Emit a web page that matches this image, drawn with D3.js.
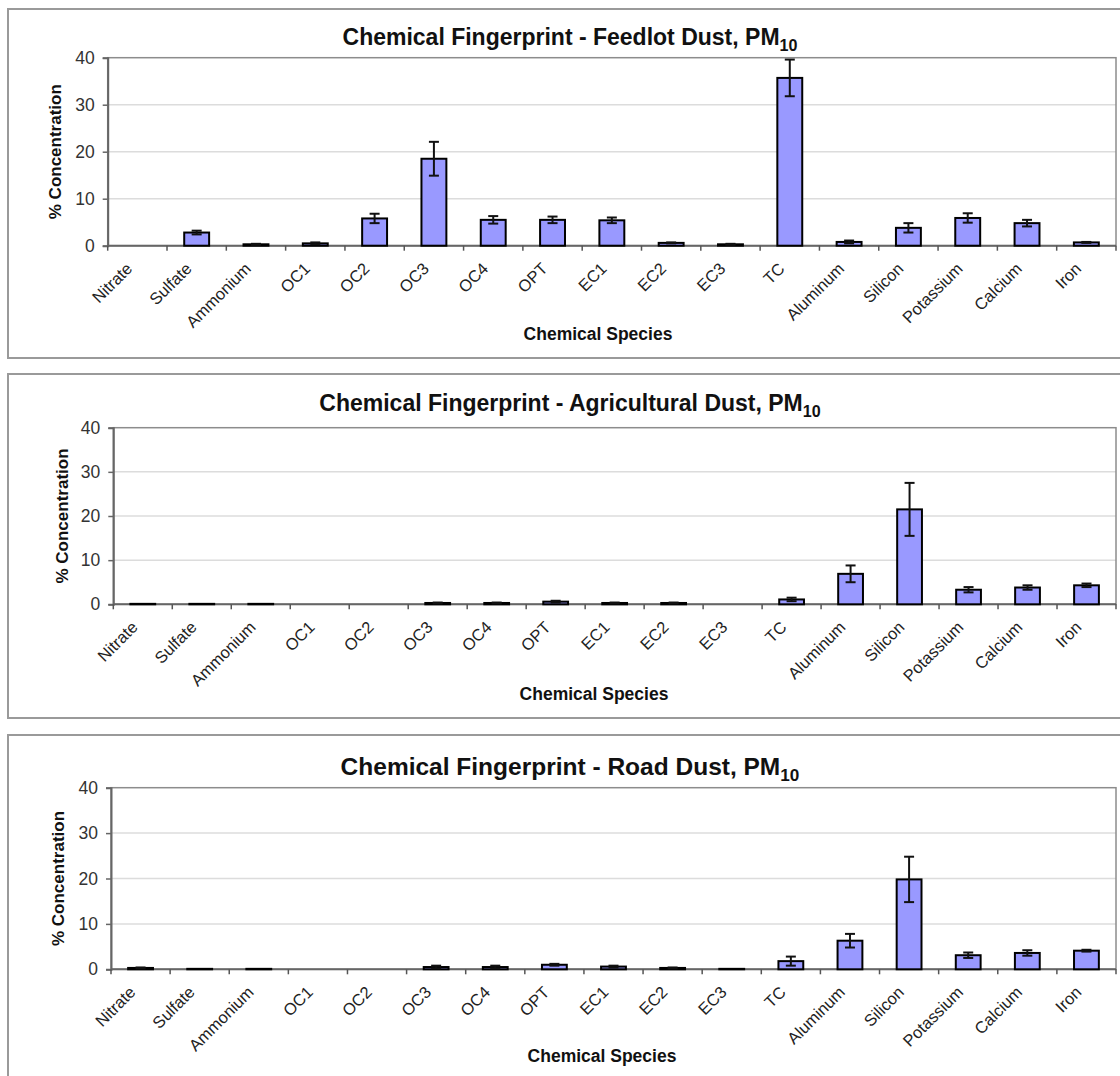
<!DOCTYPE html>
<html>
<head>
<meta charset="utf-8">
<script src="https://cdn.jsdelivr.net/npm/d3@7"></script>
<style>
  body { margin: 0; background: #fff; }
  text { font-family: "Liberation Sans", Arial, sans-serif; }
</style>
</head>
<body>
<div id="chart"></div>
<script>
const species = ["Nitrate", "Sulfate", "Ammonium", "OC1", "OC2", "OC3", "OC4", "OPT", "EC1", "EC2", "EC3", "TC", "Aluminum", "Silicon", "Potassium", "Calcium", "Iron"];
const yTicks = [0, 10, 20, 30, 40];

const feedlotMean = [0, 2.8, 0.3, 0.5, 5.8, 18.5, 5.5, 5.5, 5.4, 0.6, 0.3, 35.7, 0.8, 3.8, 5.9, 4.8, 0.7];
const feedlotErr  = [0, 0.4, 0.1, 0.2, 1.0, 3.6, 0.8, 0.7, 0.6, 0.1, 0.1, 3.9, 0.3, 1.0, 1.0, 0.7, 0.1];

const agMean = [0.1, 0.1, 0.1, 0, 0, 0.3, 0.3, 0.6, 0.3, 0.3, 0, 1.1, 6.9, 21.5, 3.3, 3.8, 4.3];
const agErr  = [0, 0, 0, 0, 0, 0.1, 0.1, 0.2, 0.1, 0.1, 0, 0.4, 1.9, 6.0, 0.6, 0.5, 0.4];

const roadMean = [0.3, 0.1, 0.1, 0, 0, 0.5, 0.5, 1.0, 0.6, 0.3, 0.1, 1.8, 6.3, 19.8, 3.1, 3.6, 4.1];
const roadErr  = [0.1, 0, 0, 0, 0, 0.3, 0.3, 0.2, 0.2, 0.1, 0, 1.0, 1.5, 5.0, 0.6, 0.6, 0.2];

const panels = [
  { name: "Feedlot Dust", mean: feedlotMean, err: feedlotErr,
    box: [8, 9, 1130, 349], plot: { l: 107.7, r: 1116, t: 57.7, b: 245.7 },
    titleY: 45, titleSize: 23, yTitleX: 55, xTitleX: 598, xTitleY: 340 },
  { name: "Agricultural Dust", mean: agMean, err: agErr,
    box: [8, 374, 1130, 344], plot: { l: 113.3, r: 1116, t: 427.7, b: 604.3 },
    titleY: 411, titleSize: 23, yTitleX: 62, xTitleX: 594, xTitleY: 700 },
  { name: "Road Dust", mean: roadMean, err: roadErr,
    box: [8, 735, 1130, 345], plot: { l: 111, r: 1116, t: 787.7, b: 969.3 },
    titleY: 775, titleSize: 24.5, yTitleX: 58, xTitleX: 602, xTitleY: 1062 }
];

const svg = d3.select("#chart").append("svg")
  .attr("width", 1120)
  .attr("height", 1076);

panels.forEach(p => {
  const g = svg.append("g");
  const { l, r, t, b } = p.plot;

  // outer frame
  g.append("rect")
    .attr("x", p.box[0]).attr("y", p.box[1])
    .attr("width", p.box[2]).attr("height", p.box[3])
    .attr("fill", "#fff").attr("stroke", "#9a9a9a").attr("stroke-width", 2);

  const x = d3.scaleBand().domain(species).range([l, r]).padding(0);
  const y = d3.scaleLinear().domain([0, 40]).range([b, t]);

  // gridlines
  g.append("g").selectAll("line")
    .data(yTicks.filter(v => v > 0 && v < 40))
    .join("line")
      .attr("x1", l).attr("x2", r)
      .attr("y1", d => y(d)).attr("y2", d => y(d))
      .attr("stroke", "#dcdcdc").attr("stroke-width", 1.5);

  // plot area border
  g.append("rect")
    .attr("x", l).attr("y", t).attr("width", r - l).attr("height", b - t)
    .attr("fill", "none").attr("stroke", "#8c8c8c").attr("stroke-width", 1.5);

  // y axis
  const yAxis = g.append("g")
    .attr("transform", `translate(${l},0)`)
    .call(d3.axisLeft(y).tickValues(yTicks).tickSize(5).tickPadding(8));
  yAxis.select(".domain").attr("stroke", "#666").attr("stroke-width", 2);
  yAxis.selectAll(".tick line").attr("stroke", "#666").attr("stroke-width", 1.5);
  yAxis.selectAll(".tick text")
    .attr("font-size", 17.5).attr("fill", "#333")
    .attr("font-family", "'Liberation Sans', Arial, sans-serif");

  // x axis line with ticks at category boundaries
  g.append("line")
    .attr("x1", l).attr("x2", r).attr("y1", b).attr("y2", b)
    .attr("stroke", "#666").attr("stroke-width", 2);
  g.append("g").selectAll("line")
    .data(species.map(s => x(s)).concat([r]))
    .join("line")
      .attr("x1", d => d).attr("x2", d => d)
      .attr("y1", b).attr("y2", b + 5)
      .attr("stroke", "#555").attr("stroke-width", 1.5);

  // category labels
  g.append("g").selectAll("text")
    .data(species)
    .join("text")
      .attr("transform", d => `translate(${x(d) + x.bandwidth() / 2 - 4},${b + 24}) rotate(-45)`)
      .attr("text-anchor", "end")
      .attr("font-size", 16.5)
      .attr("fill", "#222")
      .text(d => d);

  // bars
  const bw = x.bandwidth() * 0.42;
  const rows = species.map((s, i) => ({ s, v: p.mean[i], e: p.err[i] }));
  g.append("g").selectAll("rect")
    .data(rows.filter(d => d.v > 0))
    .join("rect")
      .attr("x", d => x(d.s) + (x.bandwidth() - bw) / 2)
      .attr("y", d => y(d.v))
      .attr("width", bw)
      .attr("height", d => y(0) - y(d.v))
      .attr("fill", "#9999ff")
      .attr("stroke", "#000")
      .attr("stroke-width", 2);

  // error bars
  const eb = g.append("g").selectAll("g")
    .data(rows.filter(d => d.e > 0))
    .join("g")
      .attr("stroke", "#111").attr("stroke-width", 2);
  const cx = d => x(d.s) + x.bandwidth() / 2;
  eb.append("line")
    .attr("x1", cx).attr("x2", cx)
    .attr("y1", d => y(d.v + d.e)).attr("y2", d => y(Math.max(0, d.v - d.e)));
  eb.append("line")
    .attr("x1", d => cx(d) - 5).attr("x2", d => cx(d) + 5)
    .attr("y1", d => y(d.v + d.e)).attr("y2", d => y(d.v + d.e));
  eb.append("line")
    .attr("x1", d => cx(d) - 5).attr("x2", d => cx(d) + 5)
    .attr("y1", d => y(Math.max(0, d.v - d.e))).attr("y2", d => y(Math.max(0, d.v - d.e)));

  // title with subscript
  const title = g.append("text")
    .attr("x", 570).attr("y", p.titleY)
    .attr("text-anchor", "middle")
    .attr("font-size", p.titleSize)
    .attr("font-weight", "bold")
    .attr("fill", "#111");
  title.append("tspan").text(`Chemical Fingerprint - ${p.name}, PM`);
  title.append("tspan").attr("font-size", p.titleSize * 0.7).attr("dy", 6).text("10");

  // axis titles
  g.append("text")
    .attr("transform", `translate(${p.yTitleX},${(t + b) / 2}) rotate(-90)`)
    .attr("text-anchor", "middle")
    .attr("dy", "0.35em")
    .attr("font-size", 17).attr("font-weight", "bold").attr("fill", "#111")
    .text("% Concentration");
  g.append("text")
    .attr("x", p.xTitleX).attr("y", p.xTitleY)
    .attr("text-anchor", "middle")
    .attr("font-size", 17.5).attr("font-weight", "bold").attr("fill", "#111")
    .text("Chemical Species");
});
</script>
</body>
</html>
